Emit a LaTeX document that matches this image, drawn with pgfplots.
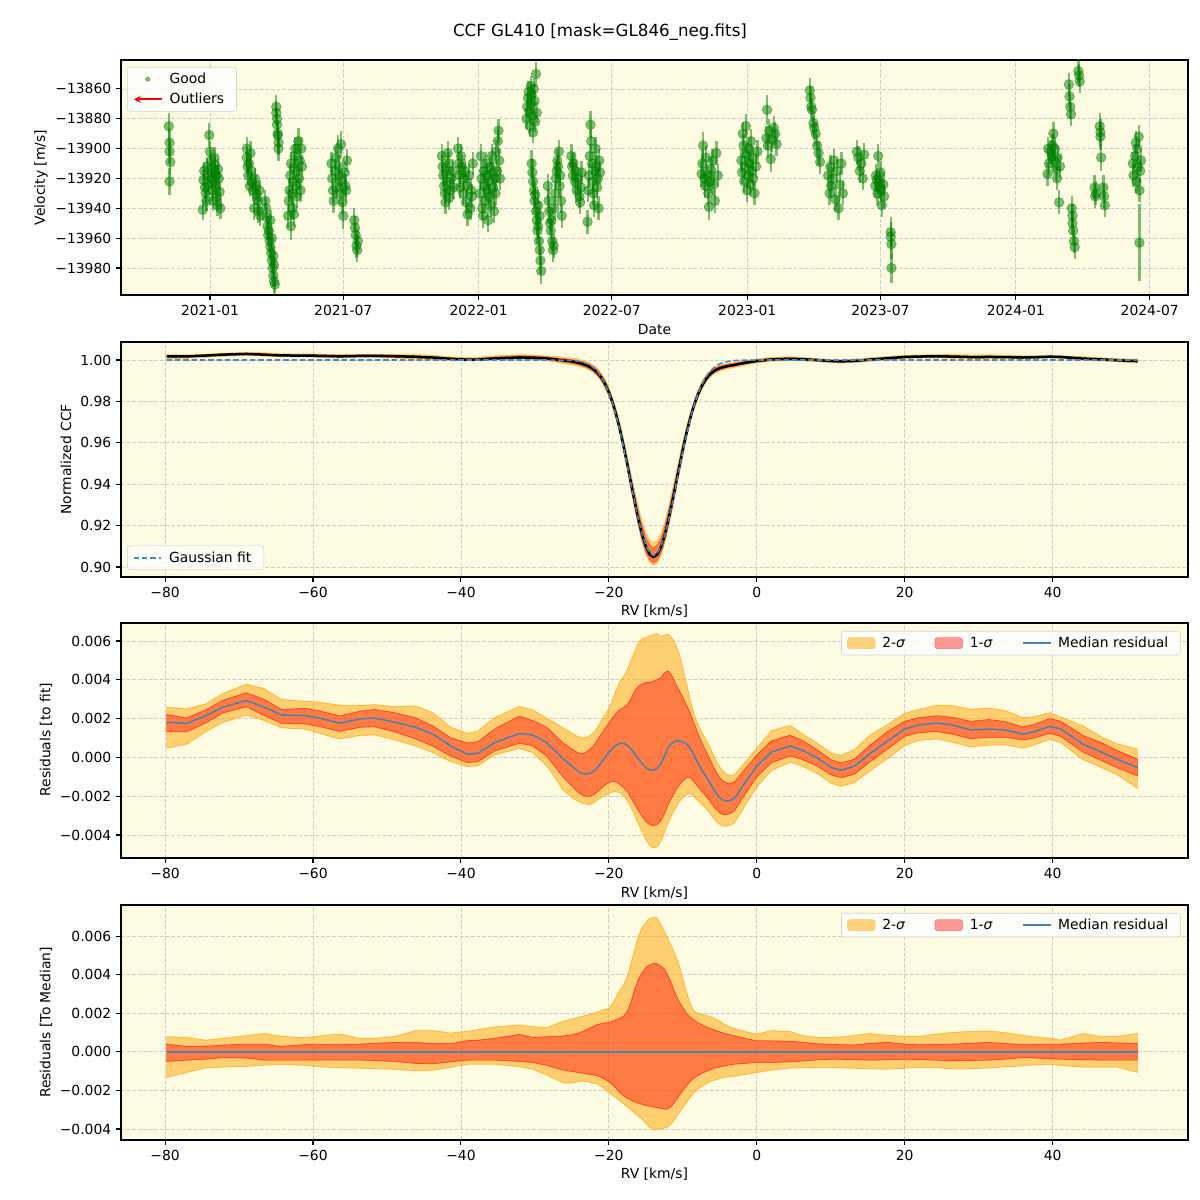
\documentclass[border=0pt]{standalone}
\usepackage{fontspec}
\setmainfont{DejaVu Sans}
\usepackage{pgfplots}
\usepackage{pgfplotstable}
\pgfplotsset{compat=1.18}
\usepgfplotslibrary{fillbetween}
\usetikzlibrary{arrows.meta}

\definecolor{bgy}{RGB}{253,251,226}
\definecolor{mplgreen}{RGB}{0,128,0}
\definecolor{mplorange}{RGB}{255,165,0}
\definecolor{gridc}{RGB}{205,205,212}
\definecolor{medblue}{RGB}{70,130,180}
\definecolor{fitblue}{RGB}{60,140,200}

% RV time series: day since 2021-01-01, velocity [m/s], error
\pgfplotstableread{
d v e
-56 -13885 9
-55 -13896 9
-55 -13902 8
-54 -13909 9
-55 -13922 9
-10 -13941 7
-9 -13921 7
-8 -13915 6
-7 -13926 7
-6 -13930 7
-5 -13935 7
-4 -13912 6
-3 -13918 7
-2 -13924 7
-1 -13891 8
0 -13902 7
1 -13908 7
2 -13920 6
3 -13928 7
3 -13913 7
4 -13935 7
5 -13916 6
6 -13922 7
6 -13906 7
7 -13911 7
8 -13926 7
9 -13932 7
9 -13918 7
10 -13938 7
11 -13914 7
12 -13920 7
13 -13929 7
14 -13940 7
50 -13900 8
50 -13906 8
51 -13912 7
52 -13918 7
53 -13910 7
54 -13925 7
55 -13903 8
56 -13915 7
57 -13922 7
58 -13928 7
60 -13940 8
61 -13920 7
62 -13925 7
63 -13931 7
65 -13935 8
66 -13942 8
67 -13928 7
68 -13945 7
75 -13935 7
76 -13940 7
77 -13946 7
78 -13952 7
79 -13958 7
80 -13955 7
81 -13962 7
82 -13966 7
82 -13948 7
83 -13970 7
84 -13975 7
84 -13960 7
85 -13980 7
86 -13985 8
86 -13972 7
87 -13989 8
87 -13978 7
88 -13991 8
90 -13872 8
90 -13876 8
91 -13880 8
91 -13884 8
92 -13890 8
92 -13891 8
93 -13896 8
93 -13900 8
106 -13945 8
107 -13935 8
108 -13928 8
109 -13918 8
110 -13910 8
110 -13952 9
111 -13930 8
112 -13940 8
113 -13922 8
114 -13913 8
114 -13944 8
115 -13905 8
116 -13900 8
117 -13925 8
118 -13932 8
119 -13915 8
120 -13895 9
121 -13920 8
122 -13908 8
123 -13928 8
124 -13900 8
125 -13912 8
165 -13910 8
166 -13920 8
167 -13928 8
168 -13935 8
170 -13915 8
171 -13906 8
172 -13926 8
174 -13900 9
175 -13912 8
176 -13918 8
177 -13930 8
178 -13897 9
179 -13922 8
180 -13936 8
181 -13945 9
183 -13916 8
184 -13925 8
185 -13928 8
186 -13908 8
196 -13948 8
197 -13953 8
198 -13958 8
199 -13965 8
200 -13968 8
201 -13962 8
315 -13905 8
316 -13912 8
317 -13918 8
318 -13925 8
319 -13930 8
320 -13936 8
321 -13915 8
322 -13922 8
323 -13903 8
324 -13910 8
325 -13933 8
326 -13928 8
328 -13920 8
330 -13915 8
331 -13926 8
337 -13900 8
338 -13910 8
339 -13918 8
340 -13926 8
341 -13905 8
342 -13912 8
344 -13930 8
345 -13920 8
346 -13915 8
348 -13936 8
349 -13925 8
350 -13944 8
352 -13918 8
354 -13940 8
355 -13928 8
356 -13932 8
357 -13910 8
367 -13930 8
368 -13905 8
369 -13920 8
370 -13940 8
371 -13945 8
372 -13915 8
373 -13925 8
374 -13935 8
375 -13910 8
376 -13918 8
377 -13928 8
378 -13948 8
379 -13922 8
380 -13932 8
381 -13912 8
382 -13938 8
383 -13905 8
384 -13916 8
385 -13926 8
386 -13942 8
387 -13920 8
388 -13930 8
389 -13902 8
390 -13915 8
391 -13895 8
392 -13888 8
393 -13908 8
394 -13920 8
430 -13880 7
431 -13872 7
432 -13866 7
433 -13862 7
434 -13875 7
435 -13885 7
436 -13870 7
436 -13858 7
437 -13864 7
438 -13878 7
439 -13889 7
440 -13860 7
441 -13868 7
442 -13882 7
443 -13850 8
444 -13876 7
437 -13910 9
438 -13916 9
439 -13922 9
440 -13928 9
441 -13935 9
442 -13931 9
443 -13942 9
444 -13948 9
445 -13955 9
446 -13952 9
446 -13938 9
447 -13962 9
448 -13968 9
448 -13945 9
449 -13975 9
450 -13982 9
459 -13925 8
460 -13935 8
461 -13942 8
462 -13950 8
463 -13955 8
464 -13948 8
465 -13962 8
466 -13968 8
467 -13965 8
468 -13940 8
469 -13930 8
470 -13920 8
471 -13915 8
472 -13908 8
473 -13912 8
474 -13902 8
475 -13925 8
476 -13918 8
477 -13935 8
478 -13945 8
491 -13905 8
492 -13912 8
493 -13918 8
494 -13910 8
496 -13922 8
497 -13915 8
498 -13928 8
500 -13920 8
502 -13932 8
503 -13936 8
504 -13926 8
505 -13916 8
513 -13949 8
514 -13928 8
515 -13918 8
516 -13905 8
517 -13884 9
518 -13895 8
519 -13910 8
520 -13922 8
521 -13930 8
522 -13938 8
523 -13915 8
524 -13900 8
525 -13912 8
526 -13926 8
527 -13920 8
528 -13940 8
529 -13908 8
530 -13916 8
668 -13917 9
669 -13910 9
670 -13898 9
672 -13920 8
673 -13925 8
674 -13906 8
676 -13918 8
677 -13930 8
678 -13939 9
680 -13922 8
681 -13914 8
683 -13908 8
684 -13924 8
686 -13935 8
688 -13903 8
690 -13918 8
722 -13908 8
723 -13916 8
724 -13890 8
725 -13898 8
726 -13922 8
727 -13912 8
728 -13885 8
729 -13904 8
730 -13928 8
731 -13918 8
732 -13900 8
733 -13910 8
734 -13924 8
735 -13895 8
736 -13915 8
737 -13906 8
738 -13920 8
740 -13930 8
742 -13912 8
744 -13902 8
756 -13893 8
757 -13874 10
758 -13898 8
760 -13888 8
762 -13907 9
764 -13894 8
766 -13886 8
768 -13890 8
770 -13897 8
815 -13861 8
816 -13866 8
817 -13872 8
818 -13874 8
820 -13883 8
821 -13886 8
823 -13890 8
825 -13898 8
827 -13903 8
829 -13909 8
840 -13918 8
842 -13930 8
843 -13912 8
844 -13925 8
846 -13920 8
848 -13908 8
850 -13934 8
852 -13915 8
854 -13940 8
856 -13924 8
858 -13910 8
860 -13930 8
879 -13902 8
881 -13906 8
883 -13915 8
885 -13910 8
887 -13920 8
889 -13904 8
904 -13925 8
905 -13918 8
906 -13921 8
907 -13930 8
908 -13905 8
909 -13922 8
910 -13926 8
911 -13916 8
912 -13928 8
913 -13938 8
915 -13924 8
916 -13932 8
925 -13956 10
925 -13959 10
926 -13964 10
926 -13980 10
1138 -13917 8
1139 -13900 8
1140 -13910 8
1142 -13902 8
1144 -13905 8
1145 -13898 8
1146 -13890 8
1147 -13908 8
1148 -13900 8
1150 -13914 8
1151 -13920 8
1152 -13906 8
1154 -13936 8
1155 -13912 8
1167 -13857 8
1168 -13865 8
1169 -13872 8
1170 -13877 8
1180 -13848 8
1181 -13851 8
1182 -13855 8
1171 -13940 8
1172 -13945 8
1172 -13950 8
1173 -13955 8
1174 -13962 8
1175 -13966 8
1209 -13885 9
1210 -13889 9
1210 -13892 9
1211 -13906 9
1202 -13926 8
1203 -13932 8
1204 -13930 8
1214 -13926 8
1215 -13932 8
1216 -13938 8
1254 -13910 8
1255 -13918 8
1257 -13905 8
1258 -13896 8
1259 -13922 8
1260 -13900 8
1261 -13912 8
1262 -13892 8
1263 -13928 8
1264 -13915 8
1265 -13908 8
1263 -13963 26
}\rvdata

% CCF: rv [km/s], gaussian fit, median residual and band offsets (units of 1e-3)
\pgfplotstableread{
rv fit med l2 l1 u1 u2
-79.8 1.0000 1.81 -1.33 -0.50 0.40 0.78
-77.1 1.0000 1.75 -1.07 -0.43 0.28 0.75
-74.5 1.0000 2.15 -0.83 -0.38 0.29 0.60
-72.2 1.0000 2.59 -0.79 -0.30 0.35 0.70
-69.0 1.0000 2.93 -0.75 -0.32 0.40 0.84
-66.6 1.0000 2.59 -0.69 -0.43 0.40 0.95
-64.3 1.0000 2.19 -0.66 -0.43 0.28 0.80
-61.0 1.0000 2.15 -0.70 -0.43 0.38 0.73
-59.2 1.0000 2.03 -0.78 -0.43 0.37 0.82
-56.4 1.0000 1.77 -0.82 -0.43 0.37 0.92
-53.6 1.0000 1.98 -0.85 -0.43 0.40 0.69
-51.7 1.0000 2.03 -0.87 -0.45 0.44 0.69
-48.9 1.0000 1.81 -0.91 -0.50 0.49 0.80
-46.1 1.0000 1.55 -0.97 -0.60 0.49 1.10
-43.8 1.0000 1.20 -0.95 -0.62 0.42 1.10
-41.4 1.0000 0.59 -0.81 -0.52 0.42 0.97
-39.1 1.0000 0.16 -0.64 -0.43 0.58 1.07
-37.7 1.0000 0.21 -0.64 -0.43 0.60 1.15
-35.4 1.0000 0.77 -0.64 -0.43 0.70 1.29
-32.1 1.0000 1.23 -0.77 -0.50 0.90 1.39
-30.3 1.0000 1.15 -0.90 -0.55 0.75 1.30
-28.4 1.0000 0.77 -1.20 -0.70 0.78 1.25
-26.1 0.99993 -0.10 -1.62 -0.95 0.82 1.60
-25.0 0.99976 -0.45 -1.62 -1.02 0.88 1.70
-24.5 0.99959 -0.62 -1.57 -1.05 0.93 1.75
-24.0 0.99932 -0.76 -1.53 -1.08 0.98 1.80
-23.5 0.99890 -0.85 -1.52 -1.11 1.05 1.85
-23.0 0.99827 -0.86 -1.55 -1.15 1.15 1.90
-22.5 0.99734 -0.82 -1.60 -1.18 1.25 1.95
-22.0 0.99601 -0.70 -1.63 -1.21 1.33 2.00
-21.5 0.99415 -0.50 -1.68 -1.25 1.42 2.08
-21.0 0.99166 -0.25 -1.80 -1.33 1.46 2.15
-20.5 0.98837 0.00 -1.95 -1.43 1.50 2.20
-20.0 0.98417 0.25 -2.10 -1.55 1.52 2.25
-19.5 0.97900 0.47 -2.25 -1.70 1.58 2.50
-19.0 0.97279 0.63 -2.40 -1.90 1.66 2.85
-18.5 0.96561 0.72 -2.55 -2.12 1.75 3.20
-18.0 0.95757 0.72 -2.70 -2.28 1.85 3.45
-17.5 0.94893 0.62 -2.85 -2.40 2.10 3.90
-17.0 0.93999 0.42 -3.00 -2.50 2.60 4.60
-16.5 0.93120 0.18 -3.18 -2.60 3.25 5.30
-16.0 0.92303 -0.08 -3.35 -2.66 3.75 6.00
-15.5 0.91596 -0.33 -3.50 -2.72 4.10 6.45
-15.0 0.91045 -0.52 -3.70 -2.78 4.38 6.70
-14.5 0.90689 -0.64 -3.90 -2.82 4.50 6.90
-14.0 0.90551 -0.66 -4.02 -2.86 4.58 6.98
-13.5 0.90643 -0.57 -4.03 -2.89 4.57 6.95
-13.0 0.90957 -0.36 -4.00 -2.93 4.45 6.60
-12.5 0.91472 0.05 -3.95 -2.97 4.30 6.25
-12.0 0.92152 0.51 -3.88 -2.95 3.95 5.85
-11.5 0.92951 0.72 -3.70 -2.80 3.50 5.45
-11.0 0.93822 0.83 -3.45 -2.55 3.00 5.00
-10.5 0.94716 0.86 -3.15 -2.28 2.60 4.50
-10.0 0.95589 0.80 -2.90 -2.00 2.30 3.80
-9.5 0.96406 0.70 -2.62 -1.75 2.00 3.10
-9.0 0.97143 0.48 -2.35 -1.52 1.80 2.50
-8.5 0.97784 0.12 -2.12 -1.36 1.65 2.10
-8.0 0.98323 -0.25 -1.95 -1.24 1.52 2.00
-7.5 0.98760 -0.60 -1.80 -1.13 1.42 1.95
-7.0 0.99106 -0.90 -1.68 -1.04 1.32 1.90
-6.5 0.99371 -1.20 -1.58 -0.96 1.24 1.85
-6.0 0.99568 -1.55 -1.50 -0.89 1.17 1.78
-5.5 0.99711 -1.85 -1.44 -0.83 1.10 1.68
-5.0 0.99811 -2.08 -1.38 -0.78 1.03 1.58
-4.5 0.99879 -2.21 -1.33 -0.74 0.97 1.46
-4.0 0.99925 -2.24 -1.30 -0.70 0.92 1.35
-3.5 0.99954 -2.20 -1.28 -0.67 0.87 1.26
-3.0 0.99973 -2.10 -1.26 -0.64 0.83 1.20
-1.6 0.99995 -1.31 -1.18 -0.60 0.70 1.05
0.0 1.0000 -0.45 -1.07 -0.55 0.57 0.92
2.0 1.0000 0.28 -0.95 -0.55 0.57 1.10
4.5 1.0000 0.59 -0.84 -0.52 0.55 1.05
6.1 1.0000 0.38 -0.82 -0.48 0.50 0.85
8.1 1.0000 -0.01 -0.81 -0.42 0.42 0.75
10.1 1.0000 -0.53 -0.81 -0.38 0.39 0.75
11.4 1.0000 -0.66 -0.83 -0.39 0.37 0.77
13.2 1.0000 -0.45 -0.85 -0.41 0.36 0.85
15.2 1.0000 0.16 -0.88 -0.43 0.43 0.95
17.7 1.0000 0.85 -0.90 -0.41 0.49 0.85
20.0 1.0000 1.46 -0.85 -0.38 0.40 0.81
21.8 1.0000 1.67 -0.80 -0.40 0.37 0.79
24.3 1.0000 1.77 -0.82 -0.43 0.38 0.92
26.4 1.0000 1.67 -0.88 -0.47 0.40 1.00
28.9 1.0000 1.42 -0.88 -0.45 0.44 1.06
31.4 1.0000 1.46 -0.83 -0.43 0.49 1.08
33.5 1.0000 1.42 -0.78 -0.38 0.43 1.00
36.0 1.0000 1.20 -0.72 -0.30 0.37 0.85
37.5 1.0000 1.32 -0.68 -0.32 0.38 0.78
39.6 1.0000 1.60 -0.66 -0.36 0.40 0.70
41.1 1.0000 1.46 -0.70 -0.38 0.40 0.61
44.1 1.0000 0.68 -0.79 -0.41 0.45 0.95
46.7 1.0000 0.25 -0.79 -0.43 0.49 0.78
48.7 1.0000 -0.10 -0.78 -0.43 0.46 0.80
51.5 1.0000 -0.53 -1.07 -0.43 0.43 0.95
}\ccfdata

\pgfplotsset{
  panel/.style={
    scale only axis, width=768.24bp, height=169.2bp, anchor=south west,
    axis background/.style={fill=bgy},
    grid=major,
    major grid style={gridc, line width=0.6bp, dash pattern=on 2.8bp off 1.2bp},
    tick align=outside, tick pos=left, major tick length=3.5bp,
    axis line style={line width=0.8bp},
    every tick/.style={black, line width=0.8bp},
    tick label style={font=\fontsize{10bp}{12bp}\selectfont},
    scaled ticks=false,
    legend style={font=\fontsize{10bp}{12bp}\selectfont, draw=gray!35, fill=white,
      fill opacity=0.8, text opacity=1, rounded corners=2bp,
      inner xsep=4bp, inner ysep=2bp, row sep=1.5bp,
      nodes={inner xsep=5bp}},
    legend cell align=left,
    legend image code/.code={\draw[#1] (0bp,0bp) -- (20bp,0bp);},
  },
  patch/.style={area legend,
    legend image code/.code={\draw[#1] (0bp,-4bp) rectangle (20bp,4bp);}},
  rvaxis/.style={
    xmin=-85.96, xmax=58.3,
    xtick={-80,-60,-40,-20,0,20,40},
    xticklabels={−80,−60,−40,−20,0,20,40},
  },
  resaxis/.style={
    ytick={-4,-2,0,2,4,6},
    yticklabels={−0.004,−0.002,0.000,0.002,0.004,0.006},
    legend columns=3,
    legend style={at={(0.9934,0.966)}, anchor=north east,
      /tikz/every even column/.append style={column sep=16bp}},
  },
  band2/.style={draw=mplorange, draw opacity=0.5, line width=0.5bp, forget plot},
  band1/.style={draw=red, draw opacity=0.4, line width=0.5bp, forget plot},
}

\begin{document}
\begin{tikzpicture}
\path (0,0) rectangle (864bp,864bp);

% ---- panel 1: RV time series
\begin{axis}[panel, at={(87.12bp,651.6bp)},
  xmin=-121, xmax=1329, ymin=-13998.1, ymax=-13840.6,
  xtick={0,181,365,546,730,911,1095,1277},
  xticklabels={2021-01,2021-07,2022-01,2022-07,2023-01,2023-07,2024-01,2024-07},
  ytick={-13980,-13960,-13940,-13920,-13900,-13880,-13860},
  yticklabels={−13980,−13960,−13940,−13920,−13900,−13880,−13860},
  legend style={at={(0.0056,0.97)}, anchor=north west},
]
\addplot[forget plot, only marks, mark=*, mark size=3.5bp, color=mplgreen,
  mark options={fill=mplgreen, draw=mplgreen, opacity=0.5},
  error bars/.cd, y dir=both, y explicit,
  error bar style={mplgreen, line width=1.7bp, opacity=0.5}, error mark=none]
  table[x=d, y=v, y error=e]{\rvdata};
\addlegendimage{legend image code/.code={
  \fill[mplgreen, opacity=0.5] (10bp,0bp) circle (1.6bp);}}
\addlegendentry{Good}
\addlegendimage{legend image code/.code={
  \draw[red, line width=1.5bp, {Stealth[length=5bp,width=5bp]}-] (0bp,0bp) -- (20bp,0bp);}}
\addlegendentry{Outliers}
\end{axis}

% ---- panel 2: CCF
\begin{axis}[panel, rvaxis, at={(87.12bp,448.56bp)},
  ymin=0.8952, ymax=1.0087,
  ytick={0.90,0.92,0.94,0.96,0.98,1.00},
  yticklabels={0.90,0.92,0.94,0.96,0.98,1.00},
  legend style={at={(0.0056,0.03)}, anchor=south west},
]
\addplot[band2, name path=cu2] table[x=rv, y expr=\thisrow{fit}+(\thisrow{med}+\thisrow{u2})/1000]{\ccfdata};
\addplot[band2, name path=cl2] table[x=rv, y expr=\thisrow{fit}+(\thisrow{med}+\thisrow{l2})/1000]{\ccfdata};
\addplot[fill=mplorange, fill opacity=0.5, draw=none, forget plot] fill between[of=cu2 and cl2];
\addplot[band1, name path=cu1] table[x=rv, y expr=\thisrow{fit}+(\thisrow{med}+\thisrow{u1})/1000]{\ccfdata};
\addplot[band1, name path=cl1] table[x=rv, y expr=\thisrow{fit}+(\thisrow{med}+\thisrow{l1})/1000]{\ccfdata};
\addplot[fill=red, fill opacity=0.4, draw=none, forget plot] fill between[of=cu1 and cl1];
\addplot[black, line width=1.8bp, forget plot] table[x=rv, y expr=\thisrow{fit}+\thisrow{med}/1000]{\ccfdata};
\addplot[fitblue, line width=1.1bp, dash pattern=on 4bp off 2bp] table[x=rv, y=fit]{\ccfdata};
\addlegendentry{Gaussian fit}
\end{axis}

% ---- panel 3: residuals to fit
\begin{axis}[panel, rvaxis, resaxis, at={(87.12bp,246.24bp)},
  ymin=-5.186, ymax=6.928,
]
\addplot[band2, name path=ru2] table[x=rv, y expr=\thisrow{med}+\thisrow{u2}]{\ccfdata};
\addplot[band2, name path=rl2] table[x=rv, y expr=\thisrow{med}+\thisrow{l2}]{\ccfdata};
\addplot[fill=mplorange, fill opacity=0.5, draw=mplorange, draw opacity=0.5, patch] fill between[of=ru2 and rl2];
\addlegendentry{2-\textit{σ}}
\addplot[band1, name path=ru1] table[x=rv, y expr=\thisrow{med}+\thisrow{u1}]{\ccfdata};
\addplot[band1, name path=rl1] table[x=rv, y expr=\thisrow{med}+\thisrow{l1}]{\ccfdata};
\addplot[fill=red, fill opacity=0.4, draw=red, draw opacity=0.4, patch] fill between[of=ru1 and rl1];
\addlegendentry{1-\textit{σ}}
\addplot[medblue, line width=1.1bp] table[x=rv, y=med]{\ccfdata};
\addlegendentry{Median residual}
\end{axis}

% ---- panel 4: residuals to median
\begin{axis}[panel, rvaxis, resaxis, at={(87.12bp,43.2bp)},
  ymin=-4.57, ymax=7.61,
]
\addplot[band2, name path=mu2] table[x=rv, y=u2]{\ccfdata};
\addplot[band2, name path=ml2] table[x=rv, y=l2]{\ccfdata};
\addplot[fill=mplorange, fill opacity=0.5, draw=mplorange, draw opacity=0.5, patch] fill between[of=mu2 and ml2];
\addlegendentry{2-\textit{σ}}
\addplot[band1, name path=mu1] table[x=rv, y=u1]{\ccfdata};
\addplot[band1, name path=ml1] table[x=rv, y=l1]{\ccfdata};
\addplot[fill=red, fill opacity=0.4, draw=red, draw opacity=0.4, patch] fill between[of=mu1 and ml1];
\addlegendentry{1-\textit{σ}}
\addplot[medblue, line width=1.1bp] table[x=rv, y expr=0]{\ccfdata};
\addlegendentry{Median residual}
\end{axis}

% ---- titles and axis labels
\node[font=\fontsize{12bp}{14bp}\selectfont] at (432bp,840.96bp) {CCF GL410 [mask=GL846\_neg.fits]};
\begin{scope}[every node/.style={font=\fontsize{10bp}{12bp}\selectfont}]
\node at (471.24bp,626.4bp) {Date};
\node[rotate=90] at (29.52bp,736.2bp) {Velocity [m/s]};
\node at (471.24bp,424.08bp) {RV [km/s]};
\node[rotate=90] at (47.52bp,533.16bp) {Normalized CCF};
\node at (471.24bp,221.04bp) {RV [km/s]};
\node[rotate=90] at (33.12bp,331.56bp) {Residuals [to fit]};
\node at (471.24bp,18.72bp) {RV [km/s]};
\node[rotate=90] at (33.12bp,127.8bp) {Residuals [To Median]};
\end{scope}
\end{tikzpicture}
\end{document}
